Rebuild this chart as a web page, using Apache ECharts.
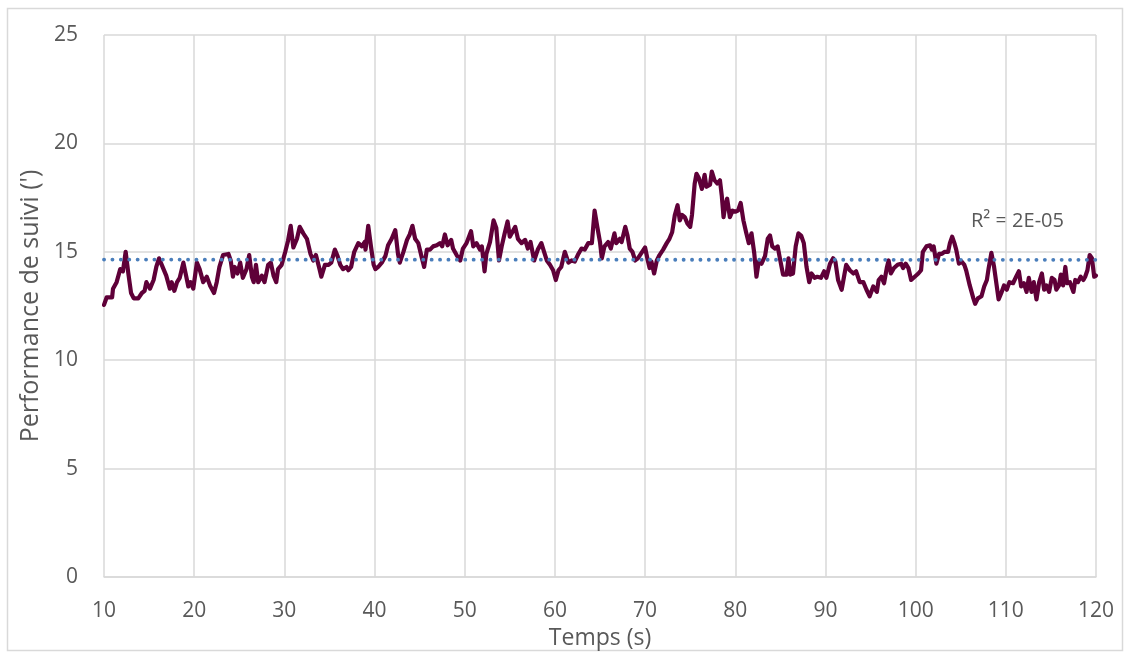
<!DOCTYPE html>
<html>
<head>
<meta charset="utf-8">
<script src="https://cdn.jsdelivr.net/npm/echarts@6/dist/echarts.min.js"></script>
<style>
html,body{margin:0;padding:0;background:#fff;}
#chart{width:1130px;height:655px;}
</style>
</head>
<body>
<div id="chart"></div>
<script>
// ---- Data ----
const times = [
10.0,10.3,10.9,11.0,11.4,11.8,12.1,12.4,12.7,13.0,13.3,13.8,14.2,14.5,14.7,15.1,15.5,15.8,16.1,16.6,16.9,17.3,17.5,17.8,18.1,18.4,18.8,19.1,19.35,19.6,19.9,
20.3,20.6,21.0,21.4,21.75,22.2,22.5,22.8,23.2,23.8,24.05,24.3,24.5,24.8,25.1,25.4,25.8,26.1,26.4,26.6,26.85,27.1,27.5,27.8,28.2,28.5,28.8,29.1,29.3,29.7,
30.1,30.4,30.7,31.0,31.4,31.7,32.1,32.5,32.9,33.2,33.5,33.9,34.1,34.5,34.9,35.2,35.6,35.9,36.2,36.5,36.9,37.1,37.4,37.75,38.2,38.6,38.9,39.0,39.3,39.6,39.9,
40.1,40.4,40.8,41.2,41.5,41.9,42.3,42.6,42.8,43.2,43.6,43.9,44.2,44.5,44.85,45.2,45.5,45.8,46.15,46.5,46.9,47.25,47.5,47.8,48.1,48.5,48.7,49.1,49.5,49.8,
50.2,50.7,50.95,51.3,51.7,51.9,52.2,52.4,52.8,53.2,53.5,53.8,54.1,54.4,54.75,55.0,55.4,55.6,55.9,56.3,56.7,57.0,57.3,57.7,58.1,58.5,58.8,59.1,59.45,59.8,
60.1,60.4,60.7,61.1,61.5,61.85,62.2,62.6,62.95,63.3,63.7,64.1,64.4,64.7,65.0,65.2,65.5,65.9,66.2,66.6,66.8,67.2,67.4,67.8,68.05,68.3,68.6,68.9,69.2,69.6,
70.0,70.3,70.5,70.7,71.0,71.3,71.6,72.0,72.4,72.7,73.0,73.3,73.6,73.85,74.1,74.4,74.7,75.0,75.2,75.5,75.7,75.96,76.3,76.6,76.8,77.2,77.4,77.7,78.0,78.3,78.5,78.7,78.9,79.1,79.4,79.7,
80.0,80.3,80.6,80.9,81.2,81.5,81.8,82.1,82.35,82.6,82.9,83.3,83.6,83.85,84.1,84.4,84.7,84.9,85.3,85.7,85.9,86.1,86.4,86.7,87.0,87.3,87.6,87.9,88.2,88.45,88.8,89.1,89.5,89.85,
90.1,90.5,90.85,91.1,91.4,91.8,92.1,92.3,92.7,93.1,93.4,93.8,94.2,94.55,94.9,95.3,95.7,95.9,96.2,96.5,96.8,97.0,97.25,97.6,98.0,98.4,98.6,98.9,99.2,99.5,99.9,
100.3,100.6,100.8,101.2,101.6,101.8,102.0,102.3,102.6,102.9,103.2,103.6,103.8,104.05,104.3,104.5,104.8,105.1,105.4,105.6,106.0,106.4,106.6,106.9,107.3,107.6,107.9,108.1,108.4,108.7,109.0,109.2,109.5,109.8,
110.1,110.4,110.8,111.2,111.45,111.7,112.0,112.3,112.55,112.85,113.1,113.4,113.7,114.0,114.25,114.5,114.8,115.1,115.4,115.6,115.9,116.1,116.35,116.6,116.8,117.1,117.5,117.7,118.0,118.3,118.6,118.8,119.05,119.3,119.55,119.8,120.0
];
const performance = [
12.55,12.9,12.9,13.3,13.6,14.2,14.1,15.0,14.0,13.1,12.85,12.85,13.1,13.2,13.6,13.3,13.7,14.3,14.7,14.2,13.9,13.3,13.6,13.2,13.6,13.8,14.5,13.9,13.4,13.6,13.3,
14.5,14.2,13.6,13.85,13.45,13.1,13.6,14.3,14.85,14.9,14.6,13.85,14.3,14.0,14.5,13.8,14.2,14.85,13.85,13.6,14.4,13.6,13.9,13.6,14.4,14.5,13.9,13.6,14.2,14.4,
15.0,15.5,16.2,15.2,15.6,16.15,15.85,15.6,14.9,14.6,14.85,14.2,13.85,14.4,14.4,14.5,15.1,14.8,14.4,14.2,14.3,14.15,14.3,15.0,15.4,15.25,15.45,15.1,16.2,15.25,14.4,
14.2,14.3,14.5,14.8,15.3,15.6,16.0,14.9,14.5,15.0,15.55,15.8,16.2,15.6,15.4,14.8,14.3,15.1,15.1,15.25,15.3,15.4,15.25,15.8,15.3,15.55,15.15,14.85,14.6,15.15,
15.4,15.95,15.25,15.4,15.1,15.25,14.1,14.9,15.45,16.45,16.1,14.6,15.25,15.8,16.4,15.7,16.0,16.15,15.6,15.4,15.55,15.15,15.45,14.6,15.1,15.4,15.0,14.6,14.4,14.15,
13.7,14.15,14.3,15.0,14.5,14.6,14.55,14.9,15.15,15.1,15.4,15.4,16.9,16.15,15.45,14.7,15.25,15.45,15.15,15.85,15.4,15.6,15.45,16.15,15.75,15.15,15.0,14.6,14.7,14.95,
15.2,14.6,14.25,14.55,14.0,14.6,14.85,15.1,15.4,15.6,15.9,16.7,17.15,16.45,16.7,16.6,16.3,16.15,16.7,18.15,18.6,18.4,17.9,18.55,18.0,18.1,18.7,18.3,18.15,18.3,17.6,16.6,17.15,17.45,16.6,16.9,
16.85,16.9,17.25,16.45,15.9,15.4,15.85,14.95,13.85,14.55,14.45,14.8,15.6,15.75,15.25,15.15,15.25,14.8,13.95,13.95,14.7,13.95,14.0,15.25,15.85,15.75,15.4,14.3,13.6,14.0,13.8,13.85,13.8,14.1,
13.8,14.45,14.7,14.55,13.7,13.25,13.95,14.4,14.15,14.0,14.1,13.6,13.6,13.25,12.95,13.4,13.15,13.7,13.85,13.55,14.25,14.6,14.0,14.25,14.4,14.45,14.25,14.45,14.25,13.7,13.85,
14.0,14.15,15.0,15.25,15.3,15.1,15.25,14.45,14.9,14.9,15.0,15.0,15.4,15.7,15.4,15.1,14.45,14.55,14.4,14.15,13.45,12.85,12.6,12.85,12.95,13.4,13.7,14.25,14.95,14.3,13.4,12.8,13.1,13.45,
13.25,13.6,13.55,13.9,14.1,13.4,13.55,13.15,13.8,13.15,13.6,12.8,13.6,14.0,13.25,13.45,13.15,13.8,13.7,13.25,13.45,13.95,13.45,14.3,13.55,13.6,13.15,13.7,13.6,13.85,13.7,13.85,14.15,14.85,14.7,13.85,13.9
];
const trendX = [10, 120];
const trendY = [14.64, 14.63];
const trendLabel = 'R² = 2E-05';
const xTicks = {min: 10, max: 120, interval: 10};
const yTicks = {min: 0, max: 25, interval: 5};

const lineData = times.map((t, i) => [t, performance[i]]);
const trendData = trendX.map((t, i) => [t, trendY[i]]);

const chart = echarts.init(document.getElementById('chart'), null, {renderer: 'canvas'});
const FONT = '"Open Sans", "Noto Sans", sans-serif';
chart.setOption({
  animation: false,
  backgroundColor: '#ffffff',
  grid: {left: 104, right: 34, top: 35, bottom: 78, containLabel: false},
  xAxis: {
    type: 'value', min: xTicks.min, max: xTicks.max, interval: xTicks.interval,
    name: 'Temps (s)', nameLocation: 'middle', nameGap: 48,
    nameTextStyle: {fontFamily: FONT, fontSize: 23, color: '#595959'},
    axisLine: {show: true, lineStyle: {color: '#d9d9d9', width: 1.5}},
    axisTick: {show: false},
    axisLabel: {fontFamily: FONT, fontSize: 21, color: '#595959', margin: 24},
    splitLine: {show: true, lineStyle: {color: '#d9d9d9', width: 1.5}}
  },
  yAxis: {
    type: 'value', min: yTicks.min, max: yTicks.max, interval: yTicks.interval,
    name: "Performance de suivi (')", nameLocation: 'middle', nameGap: 58,
    nameTextStyle: {fontFamily: FONT, fontSize: 25, color: '#595959'},
    axisLine: {show: false},
    axisTick: {show: false},
    axisLabel: {fontFamily: FONT, fontSize: 21, color: '#595959', margin: 26},
    splitLine: {show: true, lineStyle: {color: '#d9d9d9', width: 1.5}}
  },
  series: [
    {
      type: 'line', data: trendData, symbol: 'none', z: 3,
      lineStyle: {color: '#4a7ebb', width: 3.8, type: [0.1, 8.3], cap: 'round'}
    },
    {
      type: 'line', data: lineData, symbol: 'none', z: 2,
      lineStyle: {color: '#5f0038', width: 4.2, join: 'round', cap: 'round'}
    }
  ],
  graphic: [
    {type: 'rect', shape: {x: 7.5, y: 8.5, width: 1115, height: 642}, style: {fill: 'none', stroke: '#d9d9d9', lineWidth: 1.5}, silent: true, z: -10},
    {type: 'text', left: 971, top: 211, style: {text: trendLabel, font: '20px ' + FONT, fill: '#595959'}}
  ]
});
</script>
</body>
</html>
